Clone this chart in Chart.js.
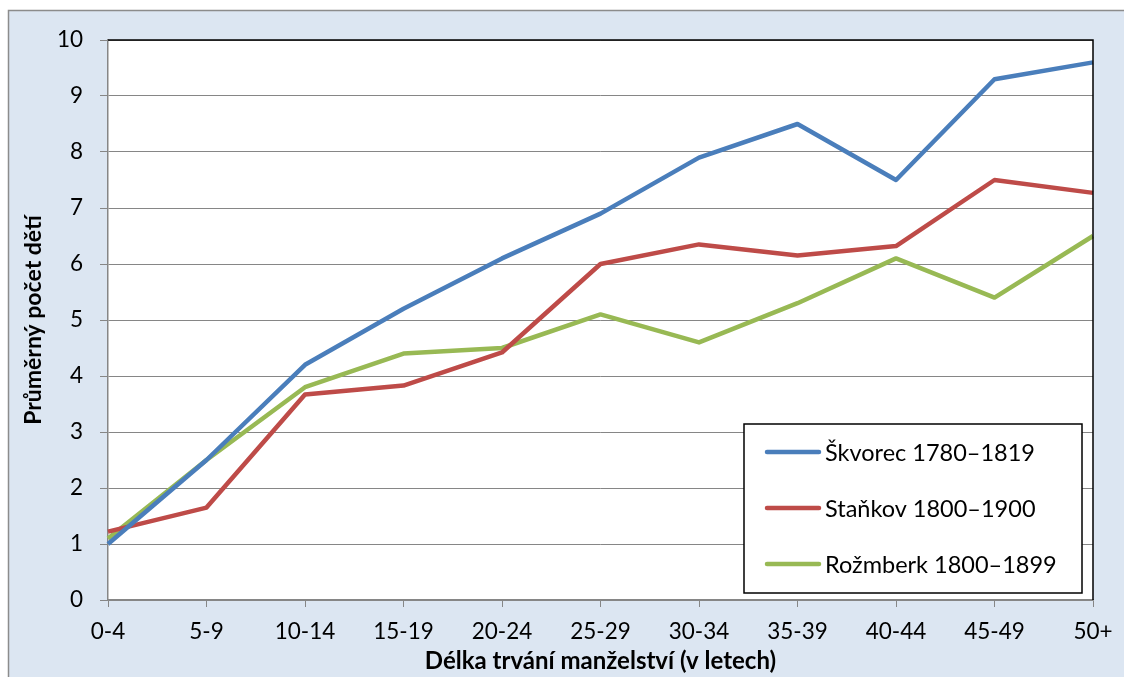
<!DOCTYPE html>
<html lang="cs">
<head>
<meta charset="UTF-8">
<title>Průměrný počet dětí</title>
<script src="https://cdn.jsdelivr.net/npm/chart.js@4.4.1/dist/chart.umd.min.js"></script>
<style>
  body { margin: 0; background: #fff; }
</style>
</head>
<body>
<canvas id="chart" width="1124" height="677"></canvas>
<script>
// categories (délka trvání manželství)
const labels = ['0-4', '5-9', '10-14', '15-19', '20-24', '25-29', '30-34', '35-39', '40-44', '45-49', '50+'];

// series values
const skvorec = [1.0, 2.5, 4.2, 5.2, 6.1, 6.9, 7.9, 8.5, 7.5, 9.3, 9.6];
const stankov = [1.22, 1.65, 3.67, 3.83, 4.42, 6.0, 6.35, 6.15, 6.32, 7.5, 7.27];
const rozmberk = [1.1, 2.5, 3.8, 4.4, 4.5, 5.1, 4.6, 5.3, 6.1, 5.4, 6.5];

const seriesNames = ['Škvorec 1780–1819', 'Staňkov 1800–1900', 'Rožmberk 1800–1899'];
const yTicks = [0, 1, 2, 3, 4, 5, 6, 7, 8, 9, 10];

const FONT = 'Lato, "Open Sans", sans-serif';

// light blue panel + white plot area
const panelPlugin = {
  id: 'panel',
  beforeDraw(chart) {
    const ctx = chart.ctx;
    const a = chart.chartArea;
    ctx.save();
    ctx.fillStyle = '#dce6f2';
    ctx.fillRect(8, 10, chart.width - 8, chart.height - 10);
    ctx.strokeStyle = '#8c8c8c';
    ctx.lineWidth = 1.5;
    ctx.beginPath();
    ctx.moveTo(8.5, chart.height);
    ctx.lineTo(8.5, 10.5);
    ctx.lineTo(chart.width, 10.5);
    ctx.stroke();
    ctx.fillStyle = '#ffffff';
    ctx.fillRect(a.left, a.top, a.right - a.left, a.bottom - a.top);
    ctx.restore();
  },
  afterDraw(chart) {
    const ctx = chart.ctx;
    const a = chart.chartArea;
    ctx.save();
    // top and right edge of the plot area
    ctx.strokeStyle = '#000000';
    ctx.lineWidth = 1.5;
    ctx.beginPath();
    ctx.moveTo(a.left, a.top);
    ctx.lineTo(a.right, a.top);
    ctx.lineTo(a.right, a.bottom);
    ctx.stroke();

    // legend box inside the plot
    const bx = 744, by = 424, bw = 338, bh = 169;
    ctx.fillStyle = '#ffffff';
    ctx.fillRect(bx, by, bw, bh);
    ctx.strokeStyle = '#000000';
    ctx.lineWidth = 1.5;
    ctx.strokeRect(bx, by, bw, bh);
    ctx.font = '23.5px ' + FONT;
    ctx.textBaseline = 'middle';
    ctx.textAlign = 'left';
    chart.data.datasets.forEach((ds, i) => {
      const y = by + 28 + i * 56;
      ctx.strokeStyle = ds.borderColor;
      ctx.lineWidth = 4.5;
      ctx.lineCap = 'round';
      ctx.beginPath();
      ctx.moveTo(767, y);
      ctx.lineTo(819, y);
      ctx.stroke();
      ctx.fillStyle = '#000000';
      ctx.fillText(ds.label, 825, y + 1);
    });
    ctx.restore();
  }
};

new Chart(document.getElementById('chart'), {
  type: 'line',
  data: {
    labels: labels,
    datasets: [
      { label: seriesNames[0], data: skvorec, borderColor: '#4a7ebb' },
      { label: seriesNames[1], data: stankov, borderColor: '#be4b48' },
      { label: seriesNames[2], data: rozmberk, borderColor: '#98b954' }
    ].map(d => Object.assign(d, {
      borderWidth: 4.5,
      pointRadius: 0,
      tension: 0,
      fill: false,
      borderJoinStyle: 'round'
    }))
  },
  options: {
    responsive: false,
    animation: false,
    devicePixelRatio: 1,
    layout: { padding: { left: 0, top: 40, right: 31, bottom: 0 } },
    plugins: {
      legend: { display: false },
      tooltip: { enabled: false }
    },
    scales: {
      x: {
        offset: false,
        afterFit(scale) { scale.height = 77; },
        grid: {
          drawOnChartArea: false,
          drawTicks: true,
          tickLength: 7,
          color: '#868686'
        },
        border: { color: '#868686', width: 1.5 },
        ticks: {
          color: '#000',
          font: { family: FONT, size: 22.5 },
          padding: 11,
          maxRotation: 0,
          autoSkip: false
        },
        title: {
          display: true,
          text: 'Délka trvání manželství (v letech)',
          color: '#000',
          font: { family: FONT, size: 24, weight: 'bold' },
          padding: { top: 0, bottom: 1 }
        }
      },
      y: {
        min: 0,
        max: 10,
        afterFit(scale) { scale.width = 108; },
        afterBuildTicks(scale) { scale.ticks = yTicks.map(v => ({ value: v })); },
        grid: {
          color: '#868686',
          lineWidth: 1,
          drawTicks: true,
          tickLength: 8
        },
        border: { color: '#868686', width: 1.5 },
        ticks: {
          color: '#000',
          font: { family: FONT, size: 22.5 },
          padding: 17
        },
        title: {
          display: true,
          text: 'Průměrný počet dětí',
          color: '#000',
          font: { family: FONT, size: 23, weight: 'bold' },
          padding: { top: 20, bottom: 0 }
        }
      }
    }
  },
  plugins: [panelPlugin]
});
</script>
</body>
</html>
